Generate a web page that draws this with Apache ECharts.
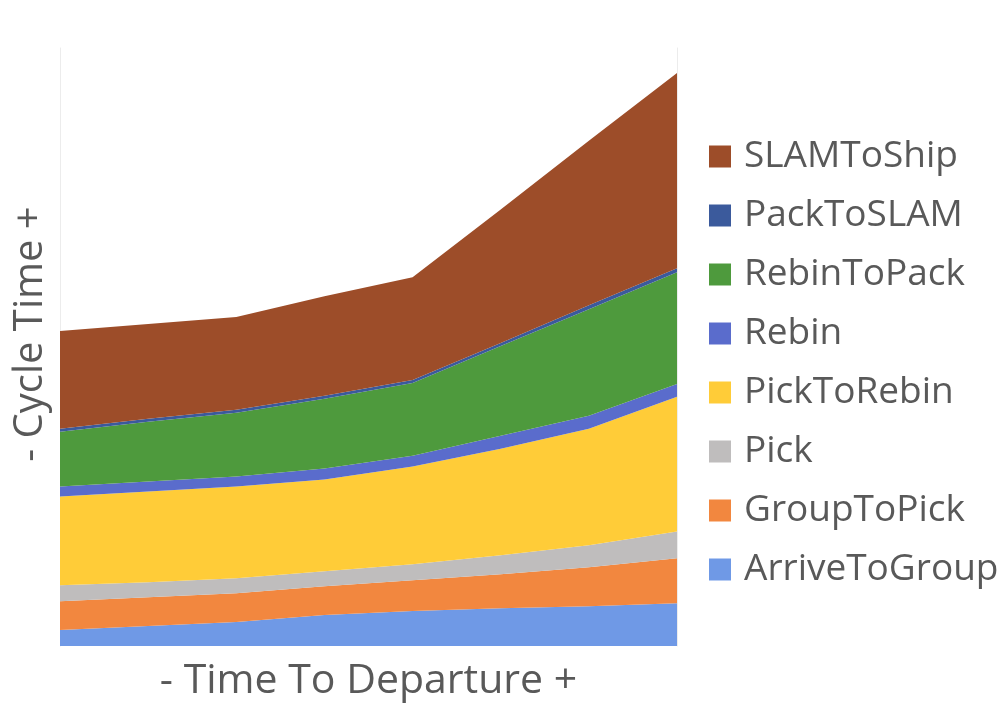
<!DOCTYPE html>
<html>
<head>
<meta charset="utf-8">
<script src="https://cdn.jsdelivr.net/npm/echarts@6/dist/echarts.min.js"></script>
<style>
  html, body { margin: 0; padding: 0; background: #ffffff; }
  #chart { width: 1005px; height: 707px; }
</style>
</head>
<body>
<div id="chart"></div>
<script>
// Time-to-departure buckets (left = close to departure, right = far)
const departureSlots = ['T1', 'T2', 'T3', 'T4', 'T5', 'T6', 'T7', 'T8'];

// Cycle-time components, stacked from the bottom up
const arriveToGroup = [16, 20, 24, 31, 35, 38, 40, 43];
const groupToPick   = [29, 29, 29, 29, 31, 34, 39, 45];
const pick          = [16, 15, 15, 15, 16, 19, 22, 27];
const pickToRebin   = [89, 91, 92, 92, 98, 107, 117, 135];
const rebin         = [10, 10, 10, 11, 11, 13, 13, 13];
const rebinToPack   = [55, 60, 64, 70, 73, 90, 107, 112];
const packToSLAM    = [3, 3, 3, 3, 3, 3, 4, 4];
const slamToShip    = [98, 95, 93, 100, 103, 134, 165, 196];

const stages = [
  { name: 'ArriveToGroup', data: arriveToGroup, color: '#6f99e6' },
  { name: 'GroupToPick',   data: groupToPick,   color: '#f2873f' },
  { name: 'Pick',          data: pick,          color: '#bfbdbd' },
  { name: 'PickToRebin',   data: pickToRebin,   color: '#ffcc38' },
  { name: 'Rebin',         data: rebin,         color: '#5a6ccc' },
  { name: 'RebinToPack',   data: rebinToPack,   color: '#4e9a3d' },
  { name: 'PackToSLAM',    data: packToSLAM,    color: '#3b5a9c' },
  { name: 'SLAMToShip',    data: slamToShip,    color: '#9d4d29' }
];

const textColor = '#595959';
const fontFamily = '"Open Sans", "Noto Sans", sans-serif';

const chart = echarts.init(document.getElementById('chart'), null, { renderer: 'canvas' });

chart.setOption({
  animation: false,
  backgroundColor: '#ffffff',
  grid: { left: 60, right: 328, top: 48, bottom: 59 },
  xAxis: {
    type: 'category',
    data: departureSlots,
    boundaryGap: false,
    axisLine: { show: false },
    axisTick: { show: false },
    axisLabel: { show: false },
    splitLine: { show: false },
    name: '- Time To Departure +',
    nameLocation: 'middle',
    nameGap: 15,
    nameTextStyle: { color: textColor, fontSize: 41, fontFamily: fontFamily }
  },
  yAxis: [
    {
      type: 'value', min: 0, max: 600,
      axisLine: { show: true, lineStyle: { color: '#ececec', width: 1 } },
      axisTick: { show: false },
      axisLabel: { show: false },
      splitLine: { show: false }
    },
    {
      type: 'value', min: 0, max: 600, position: 'right',
      axisLine: { show: true, lineStyle: { color: '#ececec', width: 1 } },
      axisTick: { show: false },
      axisLabel: { show: false },
      splitLine: { show: false }
    }
  ],
  legend: {
    orient: 'vertical',
    left: 704,
    top: 133,
    icon: 'rect',
    itemWidth: 22,
    itemHeight: 22,
    itemGap: 22,
    data: stages.map(s => s.name).reverse(),
    textStyle: {
      color: textColor,
      fontSize: 37,
      lineHeight: 34,
      fontFamily: fontFamily,
      padding: [0, 0, 0, 8]
    }
  },
  graphic: [
    {
      type: 'text',
      x: 31,
      y: 334,
      rotation: Math.PI / 2,
      style: {
        text: '- Cycle Time +',
        fill: textColor,
        font: '40px ' + fontFamily,
        textAlign: 'center',
        textVerticalAlign: 'middle'
      }
    }
  ],
  series: stages.map(s => ({
    name: s.name,
    type: 'line',
    stack: 'cycle',
    data: s.data,
    symbol: 'none',
    smooth: false,
    lineStyle: { width: 0 },
    areaStyle: { color: s.color, opacity: 1 },
    itemStyle: { color: s.color },
    emphasis: { disabled: true }
  }))
});
</script>
</body>
</html>
